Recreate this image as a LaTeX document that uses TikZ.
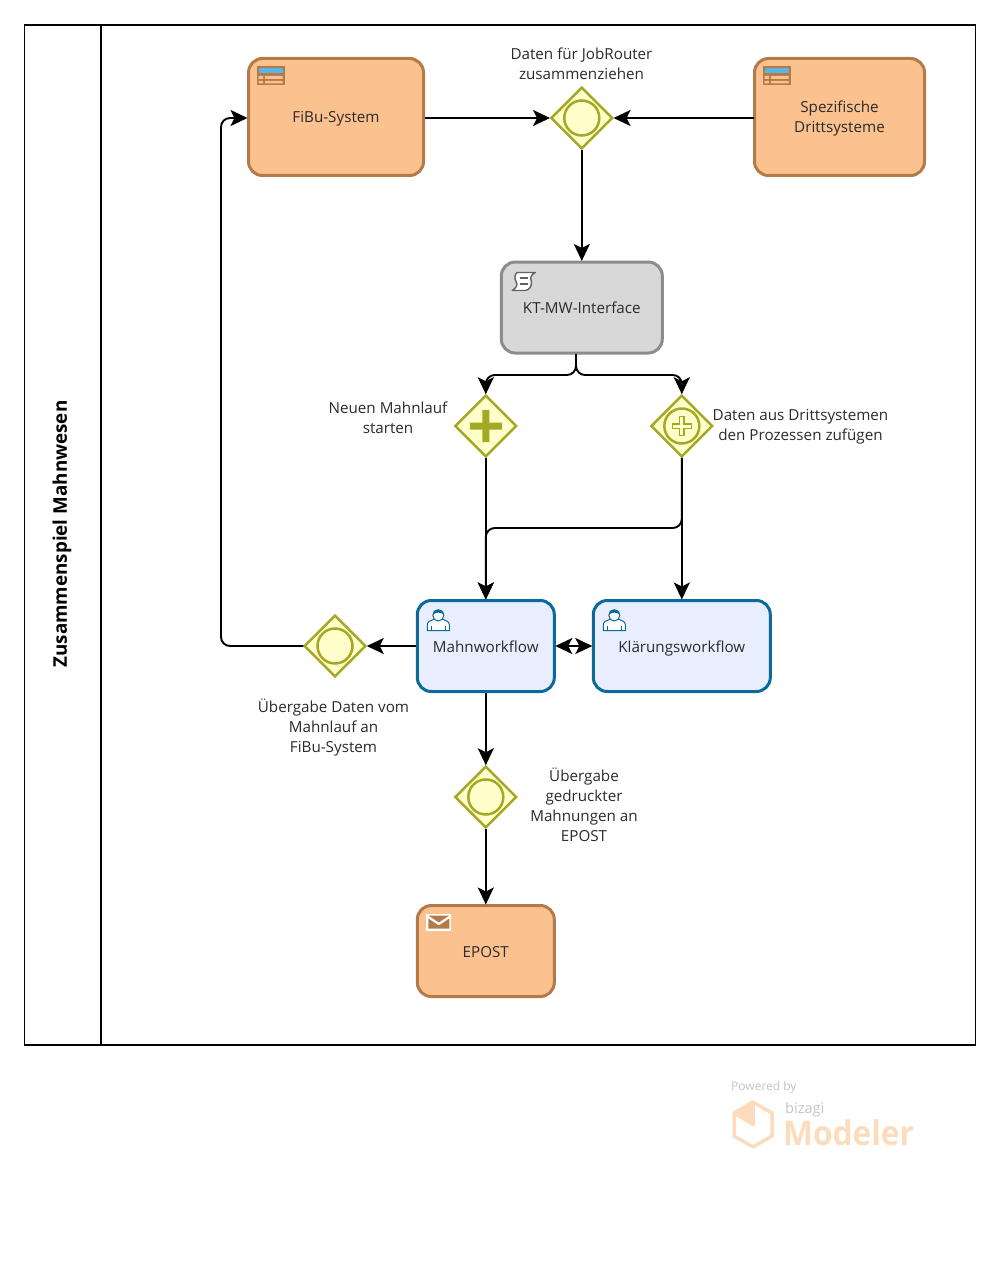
\documentclass[tikz,border=0pt]{standalone}
\usepackage{fontspec}
\setmainfont{Open Sans}
\usetikzlibrary{arrows.meta,shapes.geometric,calc}
\definecolor{orfill}{HTML}{FBC18E}
\definecolor{ordraw}{HTML}{B47A48}
\definecolor{grfill}{HTML}{D8D8D8}
\definecolor{grdraw}{HTML}{8C8C8C}
\definecolor{blfill}{HTML}{E9EEFF}
\definecolor{bldraw}{HTML}{0B6A9B}
\definecolor{gwfill}{HTML}{FFFFCC}
\definecolor{gwdraw}{HTML}{A5A823}
\definecolor{txt}{HTML}{2B2B2B}
\definecolor{logo}{HTML}{FBDCBD}
\definecolor{logogr}{HTML}{C4C4C4}
\definecolor{tblblue}{HTML}{5AB4E6}
\newcommand\tstr{\rule[-4pt]{0pt}{20pt}}
\tikzset{
  x=1pt,y=-1pt,
  lbl/.style={font=\fontsize{15.2}{20}\selectfont,text=txt,align=center,inner sep=0pt},
  task/.style={rounded corners=14pt,line width=3pt,inner sep=0pt,outer sep=1pt,lbl},
  ortask/.style={task,draw=ordraw,fill=orfill},
  grtask/.style={task,draw=grdraw,fill=grfill},
  bltask/.style={task,draw=bldraw,fill=blfill},
  gw/.style={diamond,aspect=1,draw=gwdraw,fill=gwfill,line width=2.5pt,minimum size=61.5pt,inner sep=0pt,outer sep=1pt},
  ring/.style={draw=gwdraw,line width=2.5pt},
  flow/.style={line width=1.9pt,black,rounded corners=9pt,-{Stealth[length=17pt,width=16pt,inset=4pt]}},
  flowboth/.style={line width=1.9pt,black,{Stealth[length=17pt,width=16pt,inset=4pt]}-{Stealth[length=17pt,width=16pt,inset=4pt]}},
  tableicon/.pic={
    \fill[ordraw] (9,9) rectangle (37,28);
    \fill[tblblue] (11,11) rectangle (35,16);
    \fill[orfill] (11,18.5) rectangle (15.5,21.5) (17.5,18.5) rectangle (35,21.5)
                  (11,23.5) rectangle (15.5,26) (17.5,23.5) rectangle (35,26);
  },
  usericon/.pic={
    \draw[bldraw,line width=1pt,fill=white] (11,31) -- (11,25) .. controls (11,21.5) and (16,21) .. (18,19.5)
      -- (26,19.5) .. controls (28,21) and (33,21.5) .. (33,25) -- (33,31) -- cycle;
    \draw[bldraw,line width=1pt,fill=white] (22,16) circle (5.5);
    \fill[bldraw] (16.5,15) .. controls (16.5,8) and (27.5,8) .. (27.5,15) .. controls (24,12.5) and (20,12.5) .. (16.5,15) -- cycle;
    \draw[bldraw,line width=.8pt] (15,31) -- (15,26) (29,31) -- (29,26);
  },
  scripticon/.pic={
    \draw[grdraw!70!black,line width=1.4pt,fill=white,line join=round]
      (17,11.5) -- (35,11.5) .. controls (30,14) and (30,17) .. (31,20)
      .. controls (32,25) and (29,29) .. (25,29.5) -- (12,29.5)
      .. controls (16,27) and (17.5,24) .. (16,21)
      .. controls (14,18) and (14,13.5) .. (17,11.5) -- cycle;
    \draw[grdraw!70!black,line width=1.6pt] (19.5,17) -- (28,17) (20,23) -- (28,23);
  },
  envicon/.pic={
    \fill[white] (10,9) rectangle (35,26);
    \fill[ordraw] (12,11) -- (33,11) -- (22.5,18) -- cycle;
    \fill[ordraw] (12,14) -- (22.5,21) -- (33,14) -- (33,24) -- (12,24) -- cycle;
  }
}
\begin{document}
\begin{tikzpicture}
\useasboundingbox (0,0) rectangle (1000,1268);
% pool
\node[draw=black,line width=1.5pt,minimum width=951pt,minimum height=1020pt,inner sep=0pt,outer sep=0pt] (pool) at (500,535) {};
\coordinate (laneT) at (101,25);
\coordinate (laneB) at (101,1045);
\draw[line width=1.5pt] (laneT) -- (laneB);
\node[rotate=90,font=\fontsize{18.8}{20}\selectfont\bfseries,inner sep=0pt] (title) at (62,534) {Zusammenspiel Mahnwesen};
% tasks
\node[ortask,minimum width=175pt,minimum height=117pt] (fibu) at (336,117) {\tstr FiBu-System};
\node[ortask,minimum width=170pt,minimum height=117pt] (dritt) at (839.5,117) {\tstr Spezifische\\\tstr Drittsysteme};
\node[grtask,minimum width=161pt,minimum height=91pt] (kt) at (581.8,307.5) {\tstr KT-MW-Interface};
\node[bltask,minimum width=137pt,minimum height=91pt] (mahn) at (485.8,646) {\tstr Mahnworkflow};
\node[bltask,minimum width=177pt,minimum height=91pt] (klaer) at (681.8,646) {\tstr Klärungsworkflow};
\node[ortask,minimum width=137pt,minimum height=91pt] (epost) at (485.8,951) {\tstr EPOST};
% icons
\pic at (fibu.north west) {tableicon};
\pic at (dritt.north west) {tableicon};
\pic at (kt.north west) {scripticon};
\pic at (mahn.north west) {usericon};
\pic at (klaer.north west) {usericon};
\pic at (epost.north west) {envicon};
% gateways
\node[gw] (g1) at (581.8,118) {};
\node[gw] (g2) at (485.8,426) {};
\node[gw] (g3) at (681.8,426) {};
\node[gw] (g4) at (335,646) {};
\node[gw] (g5) at (485.8,797) {};
\draw[ring] (g1.center) circle (17.5);
\draw[ring] (g4.center) circle (17.5);
\draw[ring] (g5.center) circle (17.5);
\draw[ring] (g3.center) circle (17.5);
\fill[gwdraw] ($(g2.center)+(-16,-3.5)$) -- ++(12.5,0) -- ++(0,-12.5) -- ++(7,0) -- ++(0,12.5) -- ++(12.5,0) -- ++(0,7) -- ++(-12.5,0) -- ++(0,12.5) -- ++(-7,0) -- ++(0,-12.5) -- ++(-12.5,0) -- cycle;
\draw[gwdraw,line width=1.4pt,fill=gwfill] ($(g3.center)+(-9.5,-2.2)$) -- ++(7.3,0) -- ++(0,-7.3) -- ++(4.4,0) -- ++(0,7.3) -- ++(7.3,0) -- ++(0,4.4) -- ++(-7.3,0) -- ++(0,7.3) -- ++(-4.4,0) -- ++(0,-7.3) -- ++(-7.3,0) -- cycle;
% connectors
\coordinate (ktout) at (576,354);
\coordinate (ktmid) at (576,375);
\coordinate (turn) at (221,400);
\coordinate (joint) at (681.8,528);
\draw[flow] (fibu.east |- g1) -- (g1.west);
\draw[flow] (dritt.west |- g1) -- (g1.east);
\draw[flow] (g1.south) -- (kt.north);
\draw[flow] (ktout) -- (ktmid) -| (g2.north);
\draw[flow] (ktout) -- (ktmid) -| (g3.north);
\draw[flow] (g2.south) -- (mahn.north);
\draw[flow] (g3.south) -- (klaer.north);
\draw[flow] (g3.south) -- (joint) -| (mahn.north);
\draw[flow] (mahn.west) -- (g4.east);
\draw[flow] (g4.west) -| (turn) |- (fibu.west |- g1);
\draw[flowboth] (mahn.east) -- (klaer.west);
\draw[flow] (mahn.south) -- (g5.north);
\draw[flow] (g5.south) -- (epost.north);
% labels
\node[lbl] (l1) at (581.5,64) {Daten für JobRouter\\zusammenziehen};
\node[lbl] (l2) at (388,418) {Neuen Mahnlauf\\starten};
\node[lbl] (l3) at (800.5,424) {\tstr Daten aus Drittsystemen\\\tstr den Prozessen zufügen};
\node[lbl] (l4) at (333.5,726) {\tstr Übergabe Daten vom\\\tstr Mahnlauf an\\\tstr FiBu-System};
\node[lbl] (l5) at (584,805) {\tstr Übergabe\\\tstr gedruckter\\\tstr Mahnungen an\\\tstr EPOST};
% logo
\node[font=\fontsize{12}{14}\selectfont,text=logogr,anchor=west,inner sep=0pt] (pw) at (731,1087) {Powered by};
\node[font=\fontsize{14.5}{14}\selectfont,text=logogr,anchor=west,inner sep=0pt] (bz) at (785,1110) {bizagi};
\node[font=\fontsize{34}{36}\selectfont\bfseries,text=logo,anchor=west,inner sep=0pt,xscale=.93] (md) at (783,1133) {Modeler};
\coordinate (hc) at (753,1124.5);
\fill[logo] (hc) -- (753,1102) -- (735,1113) -- cycle;
\draw[logo,line width=3.5pt,line join=round] (753,1102) -- (772,1113) -- (772,1136) -- (753,1147) -- (734,1136) -- (734,1113) -- cycle;
\draw[logo,line width=3.5pt,line join=round] (734,1113) -- (hc) -- (753,1102);
\end{tikzpicture}
\end{document}
